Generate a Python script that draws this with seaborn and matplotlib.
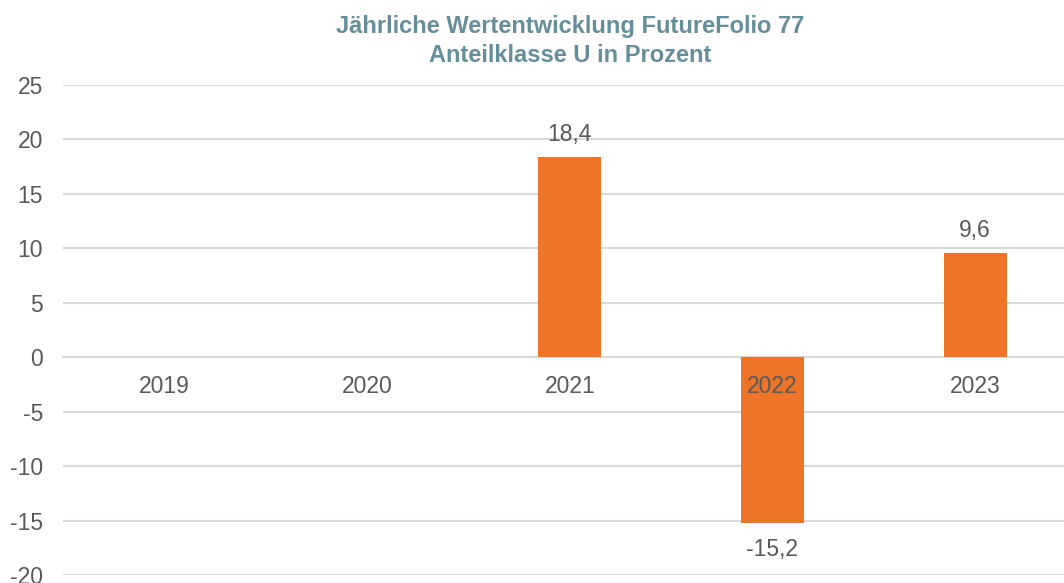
import matplotlib
matplotlib.use("Agg")
import matplotlib.pyplot as plt
import seaborn as sns
import numpy as np
import pandas as pd

years = ["2019", "2020", "2021", "2022", "2023"]
values = [np.nan, np.nan, 18.4, -15.2, 9.6]
yticks = [25, 20, 15, 10, 5, 0, -5, -10, -15, -20]
title_lines = ["Jährliche Wertentwicklung FutureFolio 77", "Anteilklasse U in Prozent"]

sns.set_theme(style="white")
plt.rcParams["font.family"] = ["Liberation Sans", "DejaVu Sans"]

text_color = "#595959"
grid_color = "#D9D9D9"
bar_color = "#EE7427"
title_color = "#668E99"
fs = 16.5

fig = plt.figure(figsize=(10.64, 5.83), dpi=100)
W, H = 1064, 583
ax_left, ax_w = 63, 1013.5
ax = fig.add_axes([ax_left / W, 1 - 575 / H, ax_w / W, (575 - 85) / H])

df = pd.DataFrame({"year": years, "value": values})
sns.barplot(data=df, x="year", y="value", order=years, color=bar_color,
            width=0.31, saturation=1, ax=ax, errorbar=None, linewidth=0)

ax.set_ylim(-20, 25)
ax.set_xlim(-0.5, len(years) - 0.5)
ax.set_yticks(yticks)
ax.set_yticklabels([str(v) for v in yticks])
ax.set_axisbelow(True)
ax.yaxis.grid(True, color=grid_color, linewidth=1.5)
ax.xaxis.grid(False)
for s in ["top", "right", "left"]:
    ax.spines[s].set_visible(False)
ax.spines["bottom"].set_position(("data", 0))
ax.spines["bottom"].set_color(grid_color)
ax.spines["bottom"].set_linewidth(1.5)
ax.spines["bottom"].set_zorder(0.5)
ax.xaxis.set_zorder(5)

ax.tick_params(axis="y", length=0, pad=14.4, labelsize=fs, labelcolor=text_color)
ax.tick_params(axis="x", which="major", length=0, pad=12.5, labelsize=fs, labelcolor=text_color)
ax.set_xticks(np.arange(-0.5, len(years), 1.0), minor=True)
ax.tick_params(axis="x", which="minor", length=5, width=1.5, color=grid_color, direction="out")
ax.set_xlabel("")
ax.set_ylabel("")

for i, v in enumerate(values):
    if np.isnan(v):
        continue
    lab = f"{v:.1f}".replace(".", ",")
    off = 8 if v >= 0 else -11
    ax.annotate(lab, xy=(i, v), xytext=(0, off), textcoords="offset points",
                ha="center", va="bottom" if v >= 0 else "top",
                fontsize=fs, color=text_color)

title_x = (ax_left + ax_w / 2) / W
fig.text(title_x, 1 - 33 / H, title_lines[0], ha="center", va="baseline",
         fontsize=17, fontweight="bold", color=title_color)
fig.text(title_x, 1 - 62 / H, title_lines[1], ha="center", va="baseline",
         fontsize=17, fontweight="bold", color=title_color)

fig.savefig("out.png", dpi=100)
